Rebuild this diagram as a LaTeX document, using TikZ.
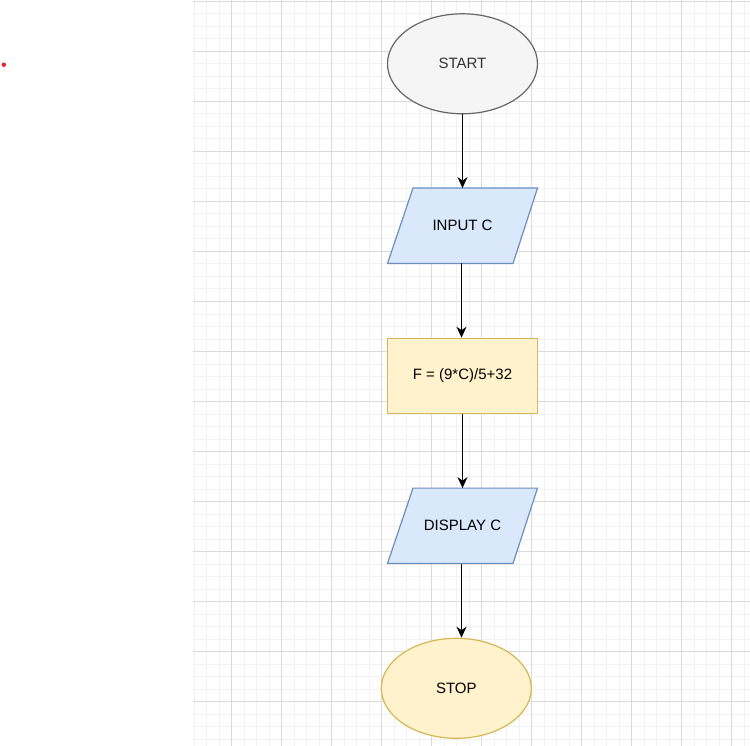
\documentclass[tikz,border=0pt]{standalone}
\usepackage{fontspec}
\setmainfont{Liberation Sans}
\usetikzlibrary{arrows.meta,shapes.geometric}
\definecolor{gminor}{HTML}{F2F2F2}
\definecolor{gmajor}{HTML}{DADADA}
\definecolor{greyfill}{HTML}{F5F5F5}
\definecolor{greyline}{HTML}{666666}
\definecolor{greytext}{HTML}{333333}
\definecolor{bluefill}{HTML}{DAE8FC}
\definecolor{blueline}{HTML}{6C8EBF}
\definecolor{yelfill}{HTML}{FFF2CC}
\definecolor{yelline}{HTML}{D6B656}
\definecolor{reddot}{HTML}{E8222A}
\tikzset{
  txt/.style={font=\fontsize{15}{18}\selectfont, text=black},
  termgrey/.style={ellipse, draw=greyline, fill=greyfill, line width=1.2pt, minimum width=150pt, minimum height=100pt, inner sep=0pt, txt, text=greytext},
  termyel/.style={ellipse, draw=yelline, fill=yelfill, line width=1.2pt, minimum width=150pt, minimum height=100pt, inner sep=0pt, txt},
  procbox/.style={rectangle, draw=yelline, fill=yelfill, line width=1.2pt, minimum width=150pt, minimum height=75pt, inner sep=0pt, txt},
  iobox/.style={rectangle, draw=none, minimum width=150pt, minimum height=75pt, inner sep=0pt, txt},
  para/.style={draw=blueline, fill=bluefill, line width=1.2pt, line join=miter},
  arr/.style={draw=black, line width=1.25pt, -{Stealth[length=11pt,width=10pt,inset=3.5pt]}}
}
\begin{document}
\begin{tikzpicture}[x=1pt,y=-1pt]
\useasboundingbox (0,0) rectangle (750,746);
\fill[white] (0,0) rectangle (750,746);
% grid
\begin{scope}
\clip (193,0) rectangle (750,746);
\foreach \i in {0,...,44} \draw[gminor, line width=1pt] (194+12.5*\i,0) -- (194+12.5*\i,746);
\foreach \j in {0,...,59} \draw[gminor, line width=1pt] (193,1.5+12.5*\j) -- (750,1.5+12.5*\j);
\foreach \k in {0,...,10} \draw[gmajor, line width=1pt] (231.5+50*\k,0) -- (231.5+50*\k,746);
\foreach \k in {0,...,14} \draw[gmajor, line width=1pt] (193,1.5+50*\k) -- (750,1.5+50*\k);
\end{scope}
% red dot
\fill[reddot] (3.8,64.7) circle (2.2pt);
% nodes
\node[termgrey] (start) at (462.5,63.8) {START};
\node[iobox] (in) at (462.5,225.8) {};
\fill[para] ([xshift=-49.5pt]in.north) -- ([xshift=75pt]in.north) -- ([xshift=50.5pt]in.south) -- ([xshift=-75pt]in.south) -- cycle;
\node[txt] (intext) at (in.center) {INPUT C};
\node[procbox] (calc) at (462.5,375.8) {F = (9*C)/5+32};
\node[iobox] (disp) at (462.5,525.8) {};
\fill[para] ([xshift=-49.5pt]disp.north) -- ([xshift=75pt]disp.north) -- ([xshift=50.5pt]disp.south) -- ([xshift=-75pt]disp.south) -- cycle;
\node[txt] (disptext) at (disp.center) {DISPLAY C};
\node[termyel] (stop) at (456.3,688.3) {STOP};
% connectors
\draw[arr] (start.south) -- (in.north);
\draw[arr] ([xshift=-1pt]in.south) -- ([xshift=-1pt]calc.north);
\draw[arr] (calc.south) -- (disp.north);
\draw[arr] ([xshift=-1pt]disp.south) -- ([xshift=-1pt]disp.south |- stop.north);
\end{tikzpicture}
\end{document}
